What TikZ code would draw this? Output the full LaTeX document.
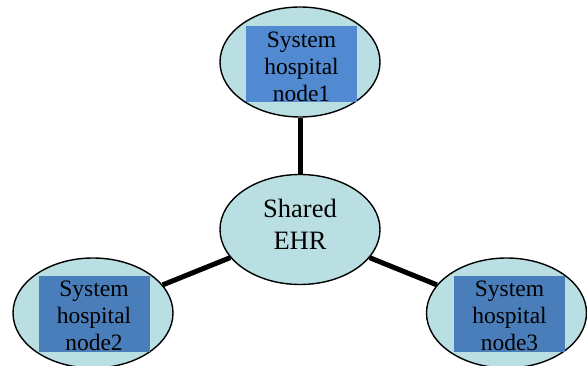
\documentclass[tikz,border=0pt]{standalone}
\usepackage{fontspec}
\setmainfont{Liberation Serif}
\usetikzlibrary{shapes.geometric}
\definecolor{ellfill}{RGB}{185,223,227}
\definecolor{rectA}{RGB}{82,138,210}
\definecolor{rectB}{RGB}{74,126,187}
\tikzset{
  ell/.style={ellipse, draw=black, line width=1.4pt, fill=ellfill, minimum width=160pt, minimum height=110pt, inner sep=0pt},
  hosprect/.style={rectangle, inner sep=0pt, minimum width=111pt, minimum height=76pt},
  hosptext/.style={anchor=north, inner sep=0pt, align=center, font=\fontsize{23.5pt}{27pt}\selectfont},
  centertext/.style={anchor=north, inner sep=0pt, align=center, font=\fontsize{26.5pt}{32pt}\selectfont},
  link/.style={line width=5pt, black}
}
\begin{document}
\begin{tikzpicture}[x=1pt, y=-1pt]
\useasboundingbox (0,0) rectangle (587,366);
% ellipses
\node[ell] (n1) at (300,62) {};
\node[ell] (c) at (300,229.5) {};
\node[ell] (n2) at (93,313) {};
\node[ell] (n3) at (506.5,313) {};
% connectors
\draw[link] (c) -- (n1);
\draw[link] (c) -- (n2);
\draw[link] (c) -- (n3);
% blue rectangles
\node[hosprect, fill=rectA] (r1) at (301.5,64.5) {};
\node[hosprect, fill=rectB] (r2) at (94,314.5) {};
\node[hosprect, fill=rectB] (r3) at (509.5,314.5) {};
% texts
\node[hosptext] (t1) at (301.5,32) {System\\hospital\\node1};
\node[hosptext] (t2) at (94,281) {System\\hospital\\node2};
\node[hosptext] (t3) at (509.5,281) {System\\hospital\\node3};
\node[centertext] (tc) at (300,199) {Shared\\EHR};
\end{tikzpicture}
\end{document}
